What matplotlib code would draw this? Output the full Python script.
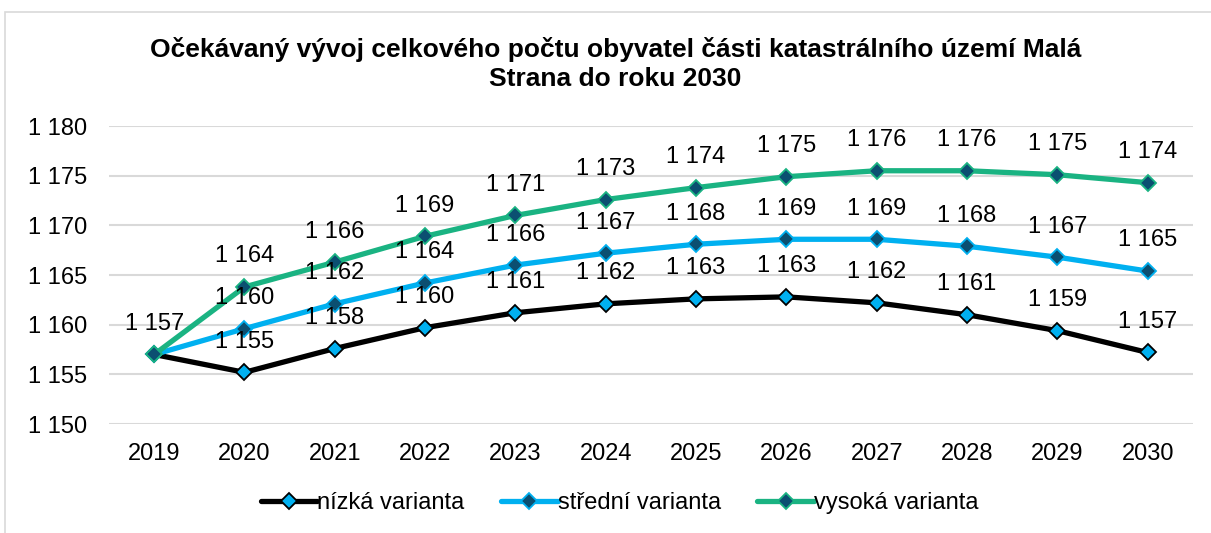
import math
import matplotlib
matplotlib.use("Agg")
import matplotlib.pyplot as plt
from matplotlib.patches import Rectangle

plt.rcParams["font.family"] = ["Liberation Sans", "DejaVu Sans"]

years = ["2019", "2020", "2021", "2022", "2023", "2024",
         "2025", "2026", "2027", "2028", "2029", "2030"]
nizka = [1157.0, 1155.2, 1157.6, 1159.7, 1161.2, 1162.1,
         1162.6, 1162.8, 1162.2, 1161.0, 1159.4, 1157.2]
stredni = [1157.0, 1159.6, 1162.1, 1164.2, 1166.0, 1167.2,
           1168.1, 1168.6, 1168.6, 1167.9, 1166.8, 1165.4]
vysoka = [1157.0, 1163.8, 1166.3, 1168.9, 1171.0, 1172.6,
          1173.8, 1174.9, 1175.5, 1175.5, 1175.1, 1174.3]

title = ("Očekávaný vývoj celkového počtu obyvatel části katastrálního území Malá\n"
         "Strana do roku 2030")

BLACK = "#000000"
BLUE = "#00b0f0"
GREEN = "#1ab382"
NAVY = "#0b4f71"


def fmt(v):
    # mezera jako oddělovač tisíců
    n = int(math.floor(v + 0.5))
    return f"{n:,}".replace(",", " ")


fig = plt.figure(figsize=(12.11, 5.33), dpi=100)
ax = fig.add_axes([0.090, 0.2045, 0.895, 0.559])

# rámeček grafu
fig.patches.append(Rectangle((5 / 1211, -0.2), 1.2, 1.2 - 12 / 533,
                             transform=fig.transFigure, fill=False,
                             edgecolor="#d9d9d9", linewidth=1.2))

x = list(range(len(years)))
series = [
    ("nízká varianta", nizka, BLACK, BLUE, BLACK),
    ("střední varianta", stredni, BLUE, NAVY, BLUE),
    ("vysoká varianta", vysoka, GREEN, NAVY, GREEN),
]

for label, vals, col, mface, medge in series:
    ax.plot(x, vals, color=col, linewidth=3.8, marker="D", markersize=8.5,
            markerfacecolor=mface, markeredgecolor=medge, markeredgewidth=1.3,
            label=label, zorder=3, solid_capstyle="round")
    for i, v in enumerate(vals):
        if i == 0 and label != "vysoká varianta":
            continue
        ax.annotate(fmt(v), (i, v), xytext=(0, 22),
                    textcoords="offset points", ha="center", va="center",
                    fontsize=17, color="#000000", zorder=4)

ax.set_xlim(-0.5, len(years) - 0.5)
ax.set_ylim(1150, 1180)
ax.set_yticks(range(1150, 1181, 5))
ax.set_yticklabels([fmt(v) for v in range(1150, 1181, 5)])
ax.set_xticks(x)
ax.set_xticklabels(years)
ax.tick_params(length=0, labelsize=17)
ax.tick_params(axis="y", pad=16)
ax.tick_params(axis="x", pad=14)
ax.grid(axis="y", color="#d9d9d9", linewidth=1.5)
ax.set_axisbelow(True)
for s in ax.spines.values():
    s.set_visible(False)

fig.text(0.508, 0.88, title, ha="center", va="center", fontsize=19,
         fontweight="bold", linespacing=1.3)

fig.legend(loc="center", bbox_to_anchor=(0.5116, 0.056), ncol=3, frameon=False,
           fontsize=17, handlelength=2.4, handletextpad=0.0, columnspacing=1.55)

fig.savefig("out.png", dpi=100)
